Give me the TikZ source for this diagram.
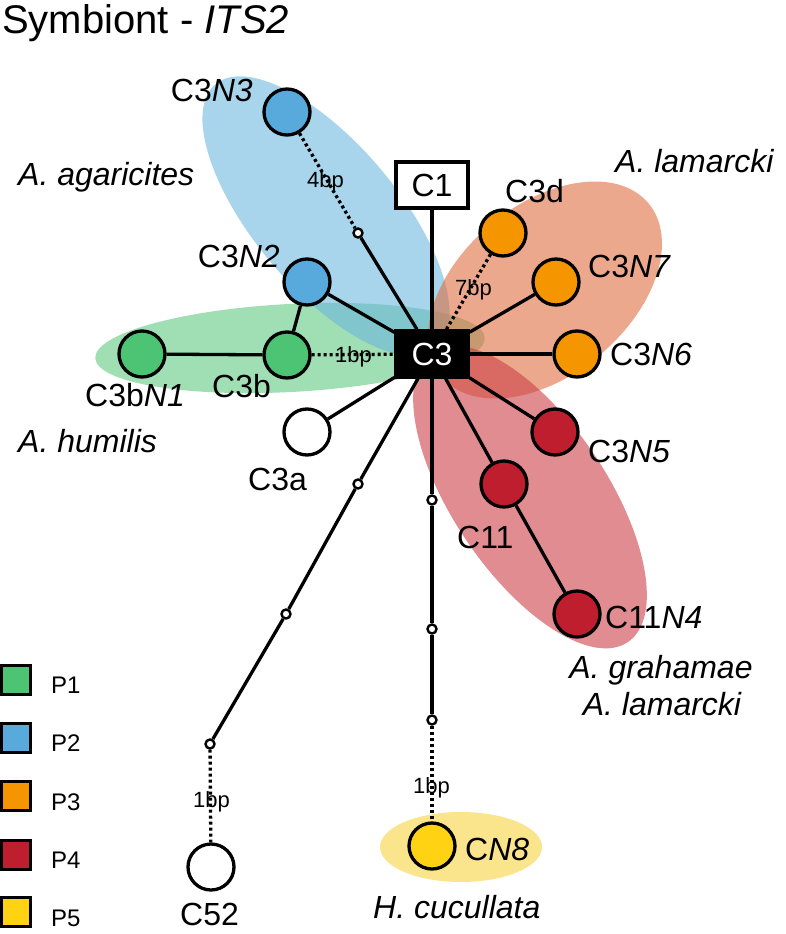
\documentclass[tikz,border=0pt]{standalone}
\usepackage{fontspec}
\setmainfont{Liberation Sans}
\definecolor{pgreen}{RGB}{76,196,115}
\definecolor{pblue}{RGB}{88,170,220}
\definecolor{porange}{RGB}{245,150,0}
\definecolor{pred}{RGB}{190,30,45}
\definecolor{pyellow}{RGB}{255,211,20}
\definecolor{zgreen}{RGB}{97,200,130}
\definecolor{zblue}{RGB}{110,183,223}
\definecolor{zorange}{RGB}{223,110,63}
\definecolor{zred}{RGB}{203,63,72}
\definecolor{zyellow}{RGB}{247,210,63}
\newcommand{\labsize}{\fontsize{32}{38}\selectfont}
\newcommand{\bpsize}{\fontsize{22}{26}\selectfont}
\newcommand{\legsize}{\fontsize{24}{28}\selectfont}

\begin{document}
\begin{tikzpicture}[x=1pt, y=-1pt,
  hap/.style={circle, draw, line width=3.3pt, minimum size=46pt, inner sep=0pt},
  mv/.style={circle, draw, fill=white, line width=2.4pt, minimum size=9pt, inner sep=0pt},
  hbox/.style={draw, line width=3.3pt, minimum width=72pt, minimum height=46pt, inner sep=0pt, font=\labsize},
  lab/.style={inner sep=0pt, font=\labsize},
  spc/.style={inner sep=0pt, font=\labsize\itshape},
  bpl/.style={inner sep=0pt, font=\bpsize},
  legl/.style={inner sep=0pt, font=\legsize, anchor=base west},
  leg/.style={draw, line width=3.3pt, minimum size=29pt, inner sep=0pt},
  link/.style={line width=3.3pt},
  bpgap/.style={line width=3.3pt, dash pattern=on 3pt off 3pt},
  zone/.style={fill opacity=0.6}]
  \useasboundingbox (0,0) rectangle (785,934);

  % species groups
  \fill[zone, zgreen, rotate around={3:(290,348)}] (290,348) ellipse [x radius=195, y radius=44];
  \fill[zone, zblue, rotate around={-50:(326,216)}] (326,216) ellipse [x radius=172, y radius=72];
  \fill[zone, zorange, rotate around={40:(545,290)}] (545,290) ellipse [x radius=135, y radius=85];
  \fill[zone, zred, rotate around={-56:(530,497)}] (530,497) ellipse [x radius=175, y radius=77];
  \fill[zone, zyellow] (461,847) ellipse [x radius=81, y radius=35];

  \node[inner sep=0pt, anchor=base west, font=\fontsize{40}{48}\selectfont] (title) at (2,34) {Symbiont - \textit{ITS2}};

  % haplotypes
  \node[hap, fill=pblue] (c3n3) at (287,112) {};
  \node[hap, fill=pblue] (c3n2) at (307,282) {};
  \node[hap, fill=pgreen] (c3b) at (287,355) {};
  \node[hap, fill=pgreen] (c3bn1) at (142,354) {};
  \node[hap, fill=white] (c3a) at (307,432) {};
  \node[hap, fill=porange] (c3d) at (503,233) {};
  \node[hap, fill=porange] (c3n7) at (556,282) {};
  \node[hap, fill=porange] (c3n6) at (577,354) {};
  \node[hap, fill=pred] (c3n5) at (555,432) {};
  \node[hap, fill=pred] (c11) at (504,484) {};
  \node[hap, fill=pred] (c11n4) at (577,614) {};
  \node[hap, fill=white] (c52) at (211,867) {};
  \node[hap, fill=pyellow] (cn8) at (432,846) {};
  \node[hbox, fill=black, text=white] (c3) at (432,354) {C3};
  \node[hbox, fill=white] (c1) at (432,185) {C1};

  % missing steps
  \node[mv] (m1) at (358,233) {};
  \node[mv] (m2) at (358,484) {};
  \node[mv] (m3) at (286,614) {};
  \node[mv] (m4) at (210,744) {};
  \node[mv] (m5) at (432,500) {};
  \node[mv] (m6) at (432,629) {};
  \node[mv] (m7) at (432,720) {};

  \draw[bpgap] (c3n3) -- (m1);
  \draw[link] (m1) -- (c3);
  \draw[link] (c1) -- (c3);
  \draw[link] (c3n2) -- (c3);
  \draw[link] (c3n2) -- (c3b);
  \draw[link] (c3bn1) -- (c3b);
  \draw[bpgap] (c3b) -- (c3);
  \draw[link] (c3a) -- (c3);
  \draw[bpgap] (c3d) -- (c3);
  \draw[link] (c3n7) -- (c3);
  \draw[link] (c3n6) -- (c3);
  \draw[link] (c3n5) -- (c3);
  \draw[link] (c11) -- (c3);
  \draw[link] (c11) -- (c11n4);
  \draw[link] (c3) -- (m2) -- (m3) -- (m4);
  \draw[bpgap] (m4) -- (c52);
  \draw[link] (c3) -- (m5) -- (m6) -- (m7);
  \draw[bpgap] (m7) -- (cn8);

  % labels
  \node[lab, anchor=base east] (lc3n3) at (253,101) {C3\textit{N3}};
  \node[lab, anchor=base east] (lc3n2) at (280,267) {C3\textit{N2}};
  \node[lab, anchor=base west] (lc3bn1) at (85,406) {C3b\textit{N1}};
  \node[lab, anchor=base west] (lc3b) at (212,397) {C3b};
  \node[lab, anchor=base west] (lc3a) at (248,490) {C3a};
  \node[lab, anchor=base west] (lc3d) at (505,202) {C3d};
  \node[lab, anchor=base west] (lc3n7) at (588,277) {C3\textit{N7}};
  \node[lab, anchor=base west] (lc3n6) at (610,365) {C3\textit{N6}};
  \node[lab, anchor=base west] (lc3n5) at (588,462) {C3\textit{N5}};
  \node[lab, anchor=base west] (lc11) at (457,548) {C11};
  \node[lab, anchor=base west] (lc11n4) at (605,628) {C11\textit{N4}};
  \node[lab, anchor=base west] (lc52) at (180,925) {C52};
  \node[lab, anchor=base west] (lcn8) at (465,860) {C\textit{N8}};
  \node[bpl, anchor=base west] (b1) at (307,187) {4bp};
  \node[bpl, anchor=base west] (b2) at (455,295) {7bp};
  \node[bpl, anchor=base west] (b3) at (335,362) {1bp};
  \node[bpl, anchor=base west] (b4) at (193,807) {1bp};
  \node[bpl, anchor=base west] (b5) at (413,793) {1bp};
  \node[spc, anchor=base west] (sagar) at (18,185) {A. agaricites};
  \node[spc, anchor=base west] (slam) at (615,172) {A. lamarcki};
  \node[spc, anchor=base west] (shum) at (18,452) {A. humilis};
  \node[spc, anchor=base] (sgra) at (661,678) {A. grahamae};
  \node[spc, anchor=base] (slam2) at (662,715) {A. lamarcki};
  \node[spc, anchor=base west] (scuc) at (373,918) {H. cucullata};

  % legend
  \node[leg, fill=pgreen] (k1) at (16,680) {};
  \node[leg, fill=pblue] (k2) at (16,738) {};
  \node[leg, fill=porange] (k3) at (16,796) {};
  \node[leg, fill=pred] (k4) at (16,855) {};
  \node[leg, fill=pyellow] (k5) at (16,912) {};
  \node[legl] (t1) at (51,693) {P1};
  \node[legl] (t2) at (51,751) {P2};
  \node[legl] (t3) at (51,810) {P3};
  \node[legl] (t4) at (51,868) {P4};
  \node[legl] (t5) at (51,926) {P5};
\end{tikzpicture}
\end{document}
